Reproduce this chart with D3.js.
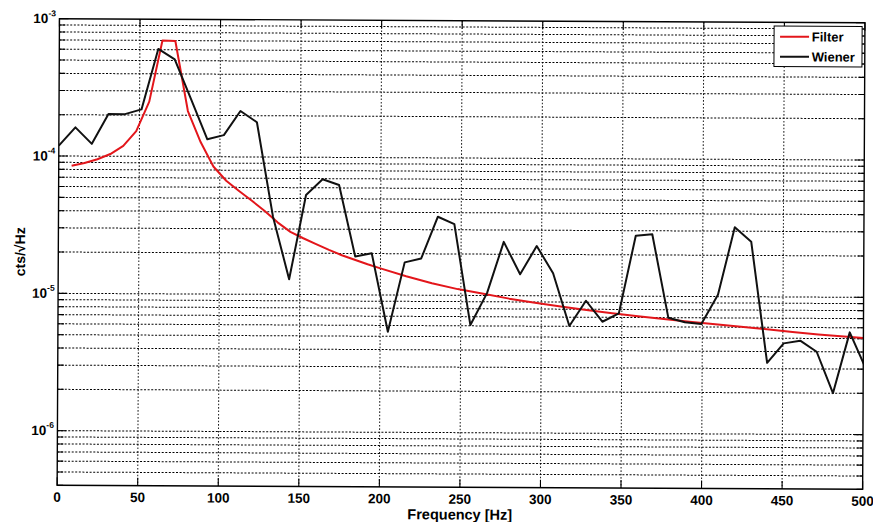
<!DOCTYPE html>
<html>
<head>
<meta charset="utf-8">
<script src="https://cdn.jsdelivr.net/npm/d3@7"></script>
<style>
  html, body { margin: 0; padding: 0; background: #fff; }
  svg { display: block; font-family: "Liberation Sans", Arial, Helvetica, sans-serif; font-weight: bold; }
</style>
</head>
<body>
<svg id="chart" width="873" height="522"></svg>
<script>
// Wiener filter estimate, one bin every 10.24 Hz (amplitude in cts/sqrt(Hz))
const wienerFreq = [0, 10.24, 20.48, 30.72, 40.96, 51.2, 61.44, 71.68, 81.92, 92.16,
  102.4, 112.64, 122.88, 133.12, 143.36, 153.6, 163.84, 174.08, 184.32, 194.56,
  204.8, 215.04, 225.28, 235.52, 245.76, 256, 266.24, 276.48, 286.72, 296.96,
  307.2, 317.44, 327.68, 337.92, 348.16, 358.4, 368.64, 378.88, 389.12, 399.36,
  409.6, 419.84, 430.08, 440.32, 450.56, 460.8, 471.04, 481.28, 491.52, 501.76];
const wienerAmp = [1.19e-4, 1.62e-4, 1.23e-4, 2.03e-4, 2.03e-4, 2.2e-4, 6.07e-4, 5.11e-4, 2.62e-4, 1.34e-4,
  1.44e-4, 2.16e-4, 1.79e-4, 3.7e-5, 1.29e-5, 5.31e-5, 6.92e-5, 6.29e-5, 1.9e-5, 2.01e-5,
  5.4e-6, 1.73e-5, 1.85e-5, 3.73e-5, 3.3e-5, 6.08e-6, 1.04e-5, 2.46e-5, 1.43e-5, 2.3e-5,
  1.46e-5, 6.03e-6, 9.23e-6, 6.5e-6, 7.5e-6, 2.76e-5, 2.83e-5, 6.98e-6, 6.48e-6, 6.3e-6,
  1.03e-5, 3.2e-5, 2.52e-5, 3.31e-6, 4.59e-6, 4.81e-6, 4.0e-6, 2.0e-6, 5.55e-6, 3.0e-6];

// Fitted filter response
const filterFreq = [8, 16, 24, 32, 40, 48, 56, 64, 72, 80, 88, 96, 104, 112, 120, 128, 136, 144,
  152, 160, 168, 176, 184, 192, 200, 216, 232, 248, 264, 280, 296, 312, 328, 344, 360,
  376, 392, 408, 424, 440, 456, 472, 488, 500];
const filterAmp = [8.51e-5, 8.91e-5, 9.51e-5, 1.038e-4, 1.19e-4, 1.53e-4, 2.51e-4, 7.0e-4, 6.95e-4, 2.15e-4,
  1.28e-4, 8.5e-5, 6.7e-5, 5.65e-5, 4.8e-5, 4.05e-5, 3.35e-5, 2.86e-5,
  2.57e-5, 2.33e-5, 2.12e-5, 1.94e-5, 1.8e-5, 1.67e-5, 1.56e-5, 1.37e-5, 1.22e-5, 1.11e-5, 1.03e-5, 9.5e-6,
  8.9e-6, 8.35e-6, 7.9e-6, 7.5e-6, 7.15e-6, 6.85e-6, 6.55e-6, 6.3e-6, 6.05e-6, 5.8e-6,
  5.55e-6, 5.35e-6, 5.18e-6, 5.05e-6];

const xTicks = [0, 50, 100, 150, 200, 250, 300, 350, 400, 450, 500];
const yDecades = [-3, -4, -5, -6];
const seriesNames = ["Filter", "Wiener"];
const seriesColors = ["#e3161b", "#111111"];

const plot = { left: 58.3, right: 863.8, top: 20.7, bottom: 487.3 };

const x = d3.scaleLinear().domain([0, 500]).range([plot.left, plot.right]);
const y = d3.scaleLog().domain([4e-7, 1e-3]).range([plot.bottom, plot.top]);

const svg = d3.select("#chart");
// the printed page sits very slightly askew
const root = svg.append("g").attr("transform", "rotate(0.285, 460, 254)");

svg.append("defs").append("clipPath").attr("id", "plotClip")
  .append("rect")
  .attr("x", plot.left).attr("y", plot.top)
  .attr("width", plot.right - plot.left).attr("height", plot.bottom - plot.top);

// grid
const grid = root.append("g").attr("stroke", "#000").attr("fill", "none");
const yGridVals = y.ticks().filter(v => v > 4.01e-7 && v < 0.99e-3);
grid.selectAll("line.h").data(yGridVals).join("line").attr("class", "h")
  .attr("x1", plot.left).attr("x2", plot.right)
  .attr("y1", d => y(d)).attr("y2", d => y(d))
  .attr("stroke-width", 1).attr("stroke-dasharray", "2,1.6");
grid.selectAll("line.v").data(xTicks.slice(1, -1)).join("line").attr("class", "v")
  .attr("y1", plot.top).attr("y2", plot.bottom)
  .attr("x1", d => x(d)).attr("x2", d => x(d))
  .attr("stroke-width", 1).attr("stroke-dasharray", "1.6,1.8").attr("stroke-opacity", 0.9);

// tick marks
const ticks = root.append("g").attr("stroke", "#000").attr("stroke-width", 1.1);
ticks.selectAll("line.xb").data(xTicks).join("line").attr("class", "xb")
  .attr("x1", d => x(d)).attr("x2", d => x(d))
  .attr("y1", plot.bottom).attr("y2", plot.bottom - 8);
ticks.selectAll("line.xt").data(xTicks).join("line").attr("class", "xt")
  .attr("x1", d => x(d)).attr("x2", d => x(d))
  .attr("y1", plot.top).attr("y2", plot.top + 8);
const yTickVals = y.ticks();
const isDecade = v => Math.abs(Math.log10(v) - Math.round(Math.log10(v))) < 1e-6;
ticks.selectAll("line.yl").data(yTickVals).join("line").attr("class", "yl")
  .attr("x1", plot.left).attr("x2", d => plot.left + (isDecade(d) ? 9 : 6))
  .attr("y1", d => y(d)).attr("y2", d => y(d));
ticks.selectAll("line.yr").data(yTickVals).join("line").attr("class", "yr")
  .attr("x1", plot.right).attr("x2", d => plot.right - (isDecade(d) ? 9 : 6))
  .attr("y1", d => y(d)).attr("y2", d => y(d));

// series
const line = d3.line().x(d => x(d[0])).y(d => y(d[1]));
const lines = root.append("g").attr("clip-path", "url(#plotClip)").attr("fill", "none")
  .attr("stroke-width", 2).attr("stroke-linejoin", "round");
lines.append("path")
  .attr("d", line(filterFreq.map((f, i) => [f, filterAmp[i]])))
  .attr("stroke", seriesColors[0]);
lines.append("path")
  .attr("d", line(wienerFreq.map((f, i) => [f, wienerAmp[i]])))
  .attr("stroke", seriesColors[1]);

// frame
root.append("rect")
  .attr("x", plot.left).attr("y", plot.top)
  .attr("width", plot.right - plot.left).attr("height", plot.bottom - plot.top)
  .attr("fill", "none").attr("stroke", "#000").attr("stroke-width", 1.4);

// x tick labels
root.append("g").attr("font-size", 13.5).attr("text-anchor", "middle").attr("fill", "#000")
  .selectAll("text").data(xTicks).join("text")
  .attr("x", d => x(d)).attr("y", plot.bottom + 16.4)
  .text(d => d);

// y tick labels as 10^n
const yl = root.append("g").attr("fill", "#000").attr("text-anchor", "end");
yDecades.forEach(p => {
  const t = yl.append("text").attr("x", plot.left - 3.5).attr("y", y(Math.pow(10, p)) + 4.5)
    .attr("font-size", 13.5);
  t.append("tspan").text("10");
  t.append("tspan").attr("font-size", 8.5).attr("dy", -7).text(String(p));
});

// axis titles
root.append("text")
  .attr("x", (plot.left + plot.right) / 2).attr("y", 519.5)
  .attr("text-anchor", "middle").attr("font-size", 14.5).attr("fill", "#000")
  .text("Frequency [Hz]");
root.append("text")
  .attr("transform", `translate(25, ${(plot.top + plot.bottom) / 2}) rotate(-90)`)
  .attr("text-anchor", "middle").attr("font-size", 14).attr("fill", "#000")
  .text("cts/\u221AHz");

// legend
const lg = root.append("g").attr("transform", "translate(773, 24.4)");
lg.append("rect").attr("width", 88).attr("height", 40.6)
  .attr("fill", "#fff").attr("stroke", "#000").attr("stroke-width", 1);
seriesNames.forEach((name, i) => {
  const yy = 10.7 + i * 20;
  lg.append("line").attr("x1", 6).attr("x2", 35).attr("y1", yy).attr("y2", yy)
    .attr("stroke", seriesColors[i]).attr("stroke-width", 2);
  lg.append("text").attr("x", 37.7).attr("y", yy + 4.6)
    .attr("font-size", 13).attr("fill", "#000").text(name);
});
</script>
</body>
</html>
